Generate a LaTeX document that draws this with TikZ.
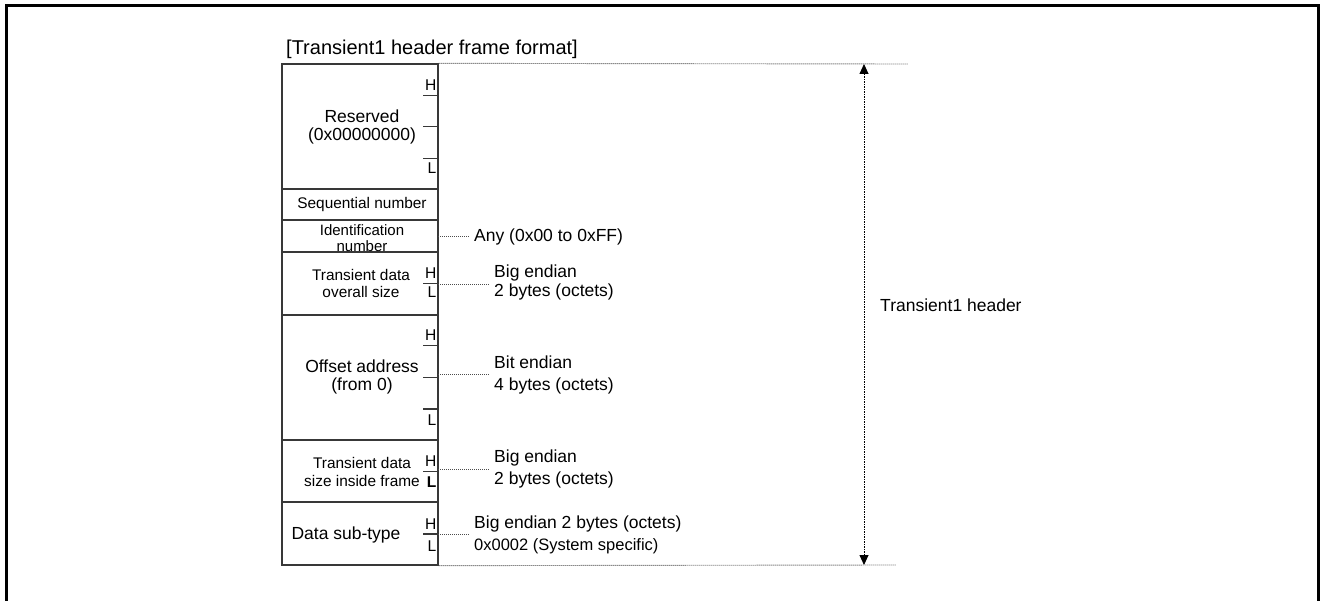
\documentclass[tikz,border=0pt]{standalone}
\usepackage{fontspec}
\setmainfont{Liberation Sans}
\usetikzlibrary{arrows.meta}
\definecolor{tabline}{gray}{0.22}
\definecolor{leadgray}{gray}{0.3}
\begin{document}
\begin{tikzpicture}[x=1pt,y=-1pt,
  cell/.style={draw=tabline,line width=1.3pt,minimum width=156pt,inner sep=0pt},
  txt/.style={inner sep=0pt,align=center,font=\fontsize{15.4}{17}\selectfont},
  big/.style={inner sep=0pt,align=center,font=\fontsize{17.5}{18.5}\selectfont},
  note/.style={inner sep=0pt,anchor=west,align=left,font=\fontsize{17.5}{19}\selectfont},
  hl/.style={inner sep=0pt,anchor=east,font=\fontsize{15.6}{17}\selectfont},
  tick/.style={draw=tabline,line width=1.1pt},
  lead/.style={draw=leadgray,line width=0.9pt,dash pattern=on 1pt off 1pt},
  span/.style={draw=black,line width=0.9pt,dash pattern=on 1.5pt off 1pt,
    {Triangle[length=10pt,width=9pt]}-{Triangle[length=10pt,width=9pt]}},
]
\useasboundingbox (0,0) rectangle (1320,601);

% outer frame (open at the bottom)
\draw[line width=3pt] (6,610) -- (6,6) -- (1318.5,6) -- (1318.5,610);

% title
\node[anchor=west,inner sep=0pt,font=\fontsize{20}{22}\selectfont] (title) at (286,49) {[Transient1 header frame format]};

% frame cells
\node[cell,minimum height=125pt] (res) at (360,126.5) {};
\node[cell,minimum height=31pt]  (seq) at (360,204.5) {};
\node[cell,minimum height=32pt]  (idn) at (360,236) {};
\node[cell,minimum height=63pt]  (tot) at (360,283.5) {};
\node[cell,minimum height=125pt] (off) at (360,377.5) {};
\node[cell,minimum height=62pt]  (siz) at (360,471) {};
\node[cell,minimum height=63pt]  (sub) at (360,533.5) {};

% cell texts
\node[big] (resT) at (362,127) {Reserved\\(0x00000000)};
\node[txt] (seqT) at (362,205) {Sequential number};
\node[txt,font=\fontsize{15}{16}\selectfont] (idnT) at (362,238.5) {Identification\\number};
\node[txt,font=\fontsize{15.4}{17.7}\selectfont] (totT) at (361,283.5) {Transient data\\overall size};
\node[big,font=\fontsize{17.5}{18.7}\selectfont] (offT) at (362,377) {Offset address\\(from 0)};
\node[txt,font=\fontsize{15.4}{18}\selectfont] (sizT) at (362,471.5) {Transient data\\size inside frame};
\node[big] (subT) at (346,534.5) {Data sub-type};

% byte order marks
\draw[tick] (423,95.7) -- (438,95.7);
\draw[tick] (423,126.7) -- (438,126.7);
\draw[tick] (423,158.3) -- (438,158.3);
\node[hl] (resH) at (436.5,85) {H};
\node[hl] (resL) at (436.5,168.5) {L};

\draw[tick] (423,283.3) -- (438,283.3);
\node[hl] (totH) at (436.5,273) {H};
\node[hl] (totL) at (436.5,292.5) {L};

\draw[tick] (423,345.7) -- (438,345.7);
\draw[tick] (423,377.7) -- (438,377.7);
\draw[tick] (423,409) -- (438,409);
\node[hl] (offH) at (436.5,335) {H};
\node[hl] (offL) at (436.5,420) {L};

\draw[tick] (423,471.7) -- (438,471.7);
\node[hl] (sizH) at (436.5,461.5) {H};
\node[hl,font=\fontsize{15.6}{17}\selectfont\bfseries] (sizL) at (436.5,482.5) {L};

\draw[tick] (423,534) -- (438,534);
\node[hl] (subH) at (436.5,524) {H};
\node[hl] (subL) at (436.5,546.5) {L};

% field notes
\node[note] (idnN) at (474,237) {Any (0x00 to 0xFF)};
\node[note] (totN) at (494,282.5) {Big endian\\2 bytes (octets)};
\node[note,font=\fontsize{17.5}{22.7}\selectfont] (offN) at (494,375) {Bit endian\\4 bytes (octets)};
\node[note,font=\fontsize{17.5}{22.7}\selectfont] (sizN) at (494,469) {Big endian\\2 bytes (octets)};
\node[note,font=\fontsize{17.5}{21.4}\selectfont] (subN) at (474,535) {Big endian 2 bytes (octets)\\{\fontsize{16.5}{21.4}\selectfont 0x0002 (System specific)}};

% leaders from the frame edge to the notes
\coordinate (idnP) at (438,236.7);
\coordinate (totP) at (438,284);
\coordinate (offP) at (438,374.3);
\coordinate (sizP) at (438,469.3);
\coordinate (subP) at (438,534.3);
\draw[lead,shorten >=4pt] (idnP) -- (idnP -| idnN.west);
\draw[lead,shorten >=4pt] (totP) -- (totP -| totN.west);
\draw[lead,shorten >=4pt] (offP) -- (offP -| offN.west);
\draw[lead,shorten >=4pt] (sizP) -- (sizP -| sizN.west);
\draw[lead,shorten >=4pt] (subP) -- (subP -| subN.west);

% header extent
\coordinate (topEnd) at (908,64);
\coordinate (botEnd) at (896,565);
\coordinate (hTop) at (864,64);
\coordinate (hBot) at (864,565);
\draw[lead] (res.north east) -- (topEnd);
\draw[lead] (sub.south east) -- (botEnd);
\draw[span] (hTop) -- (hBot);
\node[note] (hdr) at (880,305) {Transient1 header};
\end{tikzpicture}
\end{document}
